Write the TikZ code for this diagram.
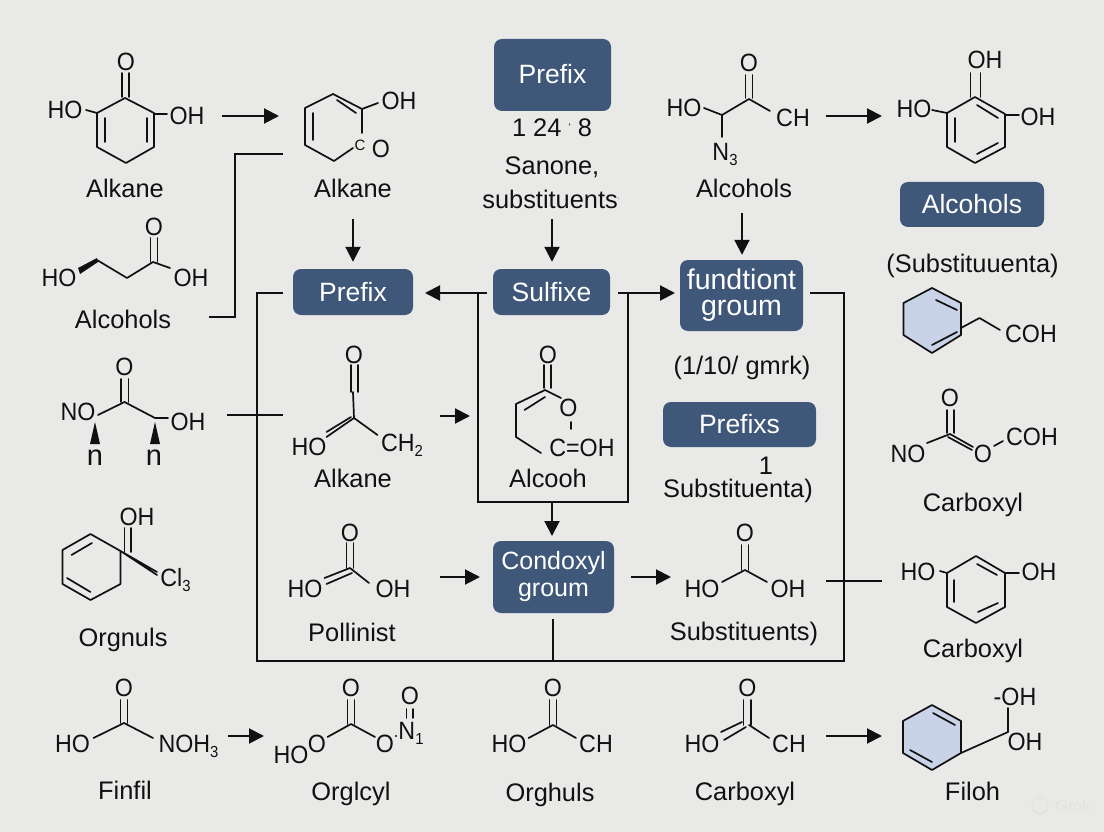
\documentclass[tikz,border=0pt]{standalone}
\usepackage{fontspec}
\setmainfont{Liberation Sans}
\newfontfamily\atomf[FakeStretch=0.93]{Liberation Sans}
\usetikzlibrary{arrows.meta}
\definecolor{bgc}{HTML}{E9E9E8}
\definecolor{boxc}{HTML}{3F5779}
\definecolor{ringc}{HTML}{C9D3E8}
\definecolor{ink}{HTML}{111111}
\newcommand{\sbs}[1]{\raisebox{-5pt}{\fontsize{16}{16}\selectfont #1}}
\tikzset{
  bd/.style={draw=ink,line width=1.7pt,line cap=round,line join=round},
  wire/.style={draw=ink,line width=2pt,line join=miter},
  arr/.style={draw=ink,line width=2pt,-{Triangle[length=15pt,width=15pt]}},
  atom/.style={font=\atomf\fontsize{25}{25}\selectfont,inner sep=0pt,text=ink,text height=18pt,text depth=0pt},
  lab/.style={font=\fontsize{25.4}{25.4}\selectfont,inner sep=0pt,text=ink,text height=18pt,text depth=0pt},
  bx/.style={fill=boxc,rounded corners=8pt,inner sep=0pt,text=white,font=\fontsize{26.5}{26.5}\selectfont},
}
\begin{document}
\begin{tikzpicture}[x=1pt,y=-1pt]
\useasboundingbox (0,0) rectangle (1104,832);
\fill[bgc] (0,0) rectangle (1104,832);

% ---- boxes
\node[bx,minimum width=117pt,minimum height=72pt] (bPrefixTop) at (552.5,75) {\raisebox{2pt}{Prefix}};
\node[bx,minimum width=120pt,minimum height=46pt] (bPrefix) at (353,292) {Prefix};
\node[bx,minimum width=117pt,minimum height=46pt] (bSulfixe) at (551.5,292) {Sulfixe};
\node[bx,minimum width=123pt,minimum height=71pt,align=center,font=\fontsize{28.5}{26}\selectfont] (bFund) at (741.5,295.5) {fundtiont\\groum};
\node[bx,minimum width=144pt,minimum height=45pt] (bAlc) at (972,204.5) {Alcohols};
\node[bx,minimum width=153pt,minimum height=45pt] (bPrefixs) at (739.5,424.5) {Prefixs};
\node[bx,minimum width=121pt,minimum height=72pt,align=center,font=\fontsize{25}{27}\selectfont] (bCond) at (553.5,577) {Condoxyl\\groum};

% ---- coordinates for connectors
\coordinate (a1s) at (222,116); \coordinate (a1e) at (279,116);
\coordinate (a2s) at (353,219);
\coordinate (a3s) at (552,219);
\coordinate (a4s) at (742,213);
\coordinate (a5s) at (825.5,116); \coordinate (a5e) at (882,116);
\coordinate (a6s) at (440,416); \coordinate (a6e) at (470,416);
\coordinate (a7s) at (440,577); \coordinate (a7e) at (480,577);
\coordinate (a8s) at (631,577); \coordinate (a8e) at (671,577);
\coordinate (a9s) at (228,736); \coordinate (a9e) at (264,736);
\coordinate (a10s) at (826,736); \coordinate (a10e) at (882,736);
\coordinate (w1a) at (283,154); \coordinate (w1b) at (235,154); \coordinate (w1c) at (235,317); \coordinate (w1d) at (209,317);
\coordinate (w2a) at (283,293); \coordinate (w2b) at (257,293); \coordinate (w2c) at (257,661); \coordinate (w2d) at (844,661); \coordinate (w2e) at (844,293); \coordinate (w2f) at (810,293);
\coordinate (w3a) at (487,293); \coordinate (w3t) at (425,293);
\coordinate (w3b) at (478,293); \coordinate (w3c) at (478,502); \coordinate (w3d) at (628,502); \coordinate (w3e) at (628,293);
\coordinate (w3f) at (618,293); \coordinate (w3g) at (675,293);
\coordinate (w4a) at (552,502); \coordinate (w4b) at (552,536);
\coordinate (w5a) at (553,619); \coordinate (w5b) at (553,661);
\coordinate (w6a) at (226.5,415); \coordinate (w6b) at (282.5,415);
\coordinate (w7a) at (826,581); \coordinate (w7b) at (882,581);

% ---- connectors
\draw[arr] (a1s)--(a1e);
\draw[arr,shorten >=7pt] (a2s)--(a2s |- bPrefix.north);
\draw[arr,shorten >=7pt] (a3s)--(a3s |- bSulfixe.north);
\draw[arr,shorten >=5pt] (a4s)--(a4s |- bFund.north);
\draw[arr] (a5s)--(a5e);
\draw[arr] (a6s)--(a6e);
\draw[arr] (a7s)--(a7e);
\draw[arr] (a8s)--(a8e);
\draw[arr] (a9s)--(a9e);
\draw[arr] (a10s)--(a10e);
\draw[wire] (w1a)--(w1b)--(w1c)--(w1d);
\draw[wire] (w2a)--(w2b)--(w2c)--(w2d)--(w2e)--(w2f);
\draw[arr] (w3a)--(w3t);
\draw[wire] (w3b)--(w3c)--(w3d)--(w3e);
\draw[arr] (w3f)--(w3g);
\draw[arr] (w4a)--(w4b);
\draw[wire] (w5a)--(w5b);
\draw[wire,line width=1.6pt] (w6a)--(w6b);
\draw[wire,line width=1.6pt] (w7a)--(w7b);

% ---- labels
\node[lab] (l1) at (125,188) {Alkane};
\node[lab] (l2) at (353,188) {Alkane};
\node[lab] (l3) at (123,319) {Alcohols};
\node[lab] (l4) at (552,128) {1 24 {\raisebox{6pt}{\fontsize{10}{10}\selectfont `}} 8};
\node[lab] (l5) at (552,166) {Sanone,};
\node[lab] (l6) at (551,199) {substituents{\color{gray}\raisebox{5pt}{\fontsize{8}{8}\selectfont '}}};
\node[lab] (l7) at (744,188) {Alcohols};
\node[lab] (l8) at (972.5,263) {(Substituuenta)};
\node[lab] (l9) at (742,365) {(1/10/ gmrk)};
\node[lab] (l10) at (766,465) {1};
\node[lab] (l11) at (738,488) {Substituenta)};
\node[lab] (l12) at (744,631) {Substituents)};
\node[lab] (l13) at (973,502) {Carboxyl};
\node[lab] (l14) at (973,648) {Carboxyl};
\node[lab] (l15) at (353,478) {Alkane};
\node[lab] (l16) at (548,478) {Alcooh};
\node[lab] (l17) at (352,632) {Pollinist};
\node[lab] (l18) at (123,637) {Orgnuls};
\node[lab] (l19) at (125,790) {Finfil};
\node[lab] (l20) at (351,791) {Orglcyl};
\node[lab] (l21) at (550,792) {Orghuls};
\node[lab] (l22) at (745,791) {Carboxyl};
\node[lab] (l23) at (972.5,791) {Filoh};
\draw[draw=gray!15,line width=1pt] (727,467) ellipse (8pt and 9pt);

% ---- molecule 1
\node[atom] (m1o) at (126,62) {O};
\node[atom] (m1a) at (65,110) {HO};
\node[atom] (m1b) at (187,116) {OH};
\draw[bd] (122.3,73)--(122.3,97) (129.3,73)--(129.3,97);
\draw[bd] (125,98)--(154,113)--(154,147)--(126,163)--(97,147)--(97,113)--cycle;
\draw[bd] (105,118)--(105,142) (147,118)--(147,142);
\draw[bd] (97,113)--(86,110) (154,114)--(167,114);

% ---- molecule 2
\node[atom] (m2a) at (399,101) {OH};
\node[atom,font=\fontsize{15}{15}\selectfont,text height=11pt] (m2c) at (360,145) {C};
\node[atom] (m2o) at (381,149) {O};
\draw[bd] (362,133)--(362,109)--(333,94)--(305,108)--(305,145)--(334,161)--(353,148);
\draw[bd] (337,100)--(356,113) (313,113)--(313,140) (362,109)--(378,103);

% ---- molecule 3
\node[atom] (m3o) at (154,227) {O};
\node[atom] (m3a) at (59,277) {HO};
\node[atom] (m3b) at (191,277) {OH};
\draw[bd] (150.5,238)--(150.5,262) (157.5,238)--(157.5,262);
\fill[ink] (97,258)--(98,262)--(80,274)--(78,268)--cycle;
\draw[bd] (97,260)--(127,278)--(153,262)--(170,268);

% ---- Alcohols (top middle)
\node[atom] (m4o) at (749,63) {O};
\node[atom] (m4a) at (684,108) {HO};
\node[atom] (m4b) at (793,118) {CH};
\node[atom] (m4n) at (725,152) {N\sbs{3}};
\draw[bd] (745.5,75)--(745.5,98) (752.5,75)--(752.5,98);
\draw[bd] (704,108)--(722,115)--(749,99)--(770,111) (722,115)--(722,137);

% ---- top right
\node[atom] (m5t) at (985,60) {OH};
\node[atom] (m5a) at (914,109) {HO};
\node[atom] (m5b) at (1038,117) {OH};
\draw[bd] (970.5,73)--(970.5,97) (980.5,73)--(980.5,97);
\draw[bd] (975,97)--(1005,114)--(1005,147)--(975,163)--(947,147)--(947,113)--cycle;
\draw[bd] (977,105)--(998,118) (955,118)--(955,142) (977,154)--(998,143);
\draw[bd] (947,113)--(932,110) (1005,115)--(1019,115);

% ---- lavender ring right
\node[atom] (m6a) at (1031,333) {COH};
\draw[bd,fill=ringc] (932,288)--(961,303)--(961,335)--(932,353)--(903.5,335)--(903.5,303)--cycle;
\draw[bd] (936,300)--(957,310) (932,345)--(957,332);
\draw[bd] (961,328)--(979.5,318)--(1000,330);

% ---- NO acid left
\node[atom] (m7o) at (124.5,366) {O};
\node[atom] (m7a) at (78,411) {NO};
\node[atom] (m7b) at (188,421) {OH};
\node[atom,font=\fontsize{29}{29}\selectfont,text height=15pt] (m7n1) at (95,458) {n};
\node[atom,font=\fontsize{29}{29}\selectfont,text height=15pt] (m7n2) at (154,458) {n};
\draw[bd] (121,379)--(121,402) (128.5,379)--(128.5,402);
\draw[bd] (98,415)--(124.5,402)--(155,418)--(168,418);
\fill[ink] (95,422)--(100,444)--(90,444)--cycle;
\fill[ink] (155,422)--(160,444)--(150,444)--cycle;

% ---- Alkane mid
\node[atom] (m8o) at (354,354) {O};
\node[atom] (m8a) at (309,446) {HO};
\node[atom] (m8b) at (402,442) {CH\sbs{2}};
\draw[bd] (351,365)--(351,392) (358,365)--(358,392);
\draw[bd] (353,392)--(354,418)--(377.5,435);
\draw[bd] (354,418)--(326.5,437) (351,417)--(326.5,432);

% ---- Alcooh
\node[atom] (m9o) at (548,354) {O};
\node[atom] (m9p) at (568.5,407) {O};
\node[atom] (m9c) at (582,447) {C=OH};
\draw[bd] (544,365)--(544,388) (551,365)--(551,388);
\draw[bd] (561,398)--(545,390)--(516,404)--(516,437)--(541,453);
\draw[bd] (545,397)--(524.5,410) (571,422)--(571,429);

% ---- Pollinist
\node[atom] (m10o) at (350,532) {O};
\node[atom] (m10a) at (305,588) {HO};
\node[atom] (m10b) at (393,588) {OH};
\draw[bd] (346.5,543)--(346.5,568) (353.5,543)--(353.5,568);
\draw[bd] (350,568)--(324.5,578) (352,573)--(326.5,584) (350,568)--(369,583);

% ---- Orgnuls
\node[atom] (m11o) at (137,516) {OH};
\node[atom] (m11c) at (175.5,577) {Cl\sbs{3}};
\draw[bd] (124.5,528)--(124.5,552) (131,528)--(131,552);
\draw[bd] (90.5,534)--(120.5,551)--(120.5,584)--(90.5,600)--(62.5,584)--(62.5,550)--cycle;
\draw[bd] (71.5,555)--(92,543) (67,578)--(90.5,592);
\draw[bd] (120.5,551)--(157,572) (120.5,551)--(157,575);

% ---- Substituents
\node[atom] (m12o) at (745,532) {O};
\node[atom] (m12a) at (702,588) {HO};
\node[atom] (m12b) at (788,588) {OH};
\draw[bd] (741.5,545)--(741.5,570) (748.5,545)--(748.5,570);
\draw[bd] (722,582)--(745,570)--(767,582);

% ---- right Carboxyl 1
\node[atom] (m13o) at (950,397) {O};
\node[atom] (m13a) at (908,453) {NO};
\node[atom] (m13p) at (983,453) {O};
\node[atom] (m13b) at (1032,436) {COH};
\draw[bd] (947,410)--(947,433) (954,410)--(954,433);
\draw[bd] (927,443)--(950,434)--(973,447) (948,437)--(972,450) (994,446)--(1003,441);

% ---- right Carboxyl 2
\node[atom] (m14a) at (918,571) {HO};
\node[atom] (m14b) at (1039,571) {OH};
\draw[bd] (976,556)--(1005,573)--(1005,607)--(976,623)--(947,607)--(947,573)--cycle;
\draw[bd] (977,564)--(997,575) (954,580)--(954,602) (978,612)--(998,603);
\draw[bd] (947,573)--(940,571) (1005,573)--(1019,573);

% ---- Finfil
\node[atom] (m15o) at (124,687) {O};
\node[atom] (m15a) at (72.5,743) {HO};
\node[atom] (m15b) at (188.5,743) {NOH\sbs{3}};
\draw[bd] (120.5,700)--(120.5,723) (127.5,700)--(127.5,723);
\draw[bd] (93.5,738)--(124,723)--(153,738);

% ---- Orglcyl
\node[atom] (m16o) at (351,687) {O};
\node[atom] (m16l) at (317,743) {O};
\node[atom] (m16h) at (291,754) {HO};
\node[atom] (m16r) at (385,743) {O};
\node[atom] (m16t) at (410,695) {O};
\node[atom] (m16n) at (411,730) {N\sbs{1}};
\fill[ink] (396,736) circle (1.2pt);
\draw[bd] (347.5,700)--(347.5,724) (354.5,700)--(354.5,724);
\draw[bd] (327.5,737)--(351,724)--(375,737);
\draw[bd] (406.5,709)--(406.5,718) (413,709)--(413,718);

% ---- Orghuls
\node[atom] (m17o) at (553,687) {O};
\node[atom] (m17a) at (509,743) {HO};
\node[atom] (m17b) at (596,743) {CH};
\draw[bd] (549.5,700)--(549.5,725) (556.5,700)--(556.5,725);
\draw[bd] (528.6,738)--(553,725)--(576,738);

% ---- Carboxyl bottom
\node[atom] (m18o) at (747.5,687) {O};
\node[atom] (m18a) at (702,743) {HO};
\node[atom] (m18b) at (789,743) {CH};
\draw[bd] (743.5,700)--(743.5,725) (751,700)--(751,725);
\draw[bd] (742,722)--(721,732) (746,727)--(724,740) (749,725)--(769,738);

% ---- Filoh
\node[atom] (m19a) at (1015,696) {-OH};
\node[atom] (m19b) at (1025,741) {OH};
\draw[bd,fill=ringc] (932,705)--(961,721)--(961,753)--(932,770)--(903,753)--(903,721)--cycle;
\draw[bd] (933,713)--(955,725) (910,750)--(932,762);
\draw[bd] (961,753)--(1008,732)--(1008,708);

% ---- faint mark
\node[inner sep=0pt,font=\fontsize{16}{16}\selectfont,text=black!3!bgc] (gk) at (1073,806) {Grok};
\draw[draw=black!3!bgc,line width=1.5pt] (1040,806) circle (8pt);
\end{tikzpicture}
\end{document}
